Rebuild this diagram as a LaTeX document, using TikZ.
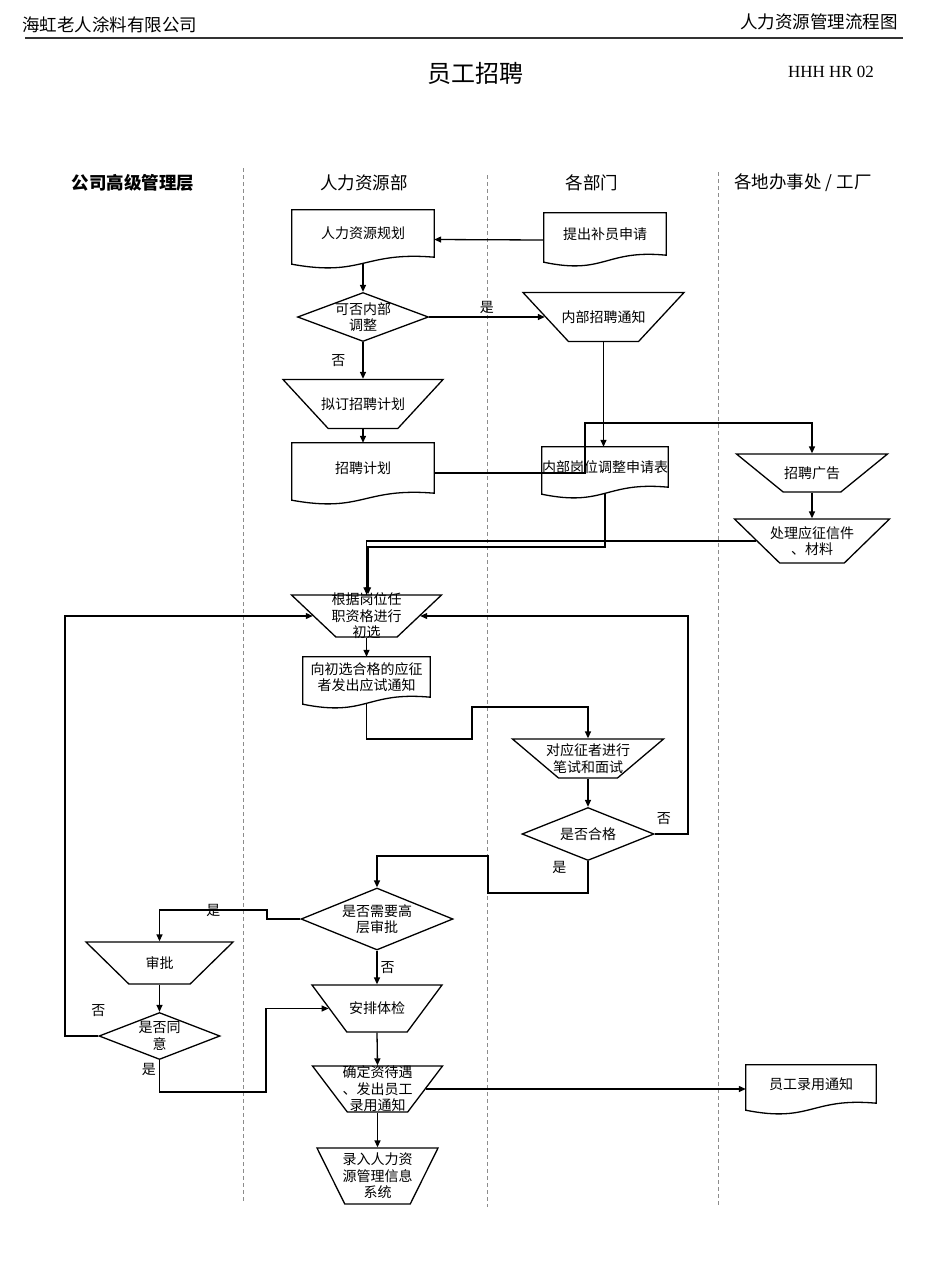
\documentclass[tikz,border=0pt]{standalone}
\usepackage{fontspec}
\setmainfont{Noto Sans CJK SC}
\newfontfamily\codefont{Liberation Serif}
\usetikzlibrary{shapes.geometric,arrows.meta}

\newcommand\boxfont{\fontsize{14}{16.5}\selectfont}
\newcommand\headfont{\fontsize{17.5}{20}\selectfont}

\tikzset{
  wire/.style={line width=1.3pt},
  arr/.style={wire, -{Triangle[length=7pt,width=6pt]}},
  doc/.style={minimum width=142, minimum height=47, inner sep=0pt, font=\boxfont, align=center},
  trap/.style={trapezium, draw, wire, shape border rotate=180, trapezium stretches=true, inner sep=1pt},
  dec/.style={diamond, draw, wire, inner sep=1pt},
  lane/.style={draw=black!45, dash pattern=on 4pt off 3pt, line width=0.8pt},
  every label/.style={font=\boxfont, align=center, inner sep=0pt},
  lbl/.style={font=\boxfont, inner sep=1pt},
}

\begin{document}
\begin{tikzpicture}[x=1pt, y=-1pt]
\useasboundingbox (0,0) rectangle (950,1267);

% page head
\node[font=\headfont] (firm) at (110,25) {海虹老人涂料有限公司};
\node[font=\headfont] (kind) at (819,22) {人力资源管理流程图};
\draw[line width=1.5pt, black!80] (25,38) -- (903,38);
\node[font=\fontsize{24}{28}\selectfont] (title) at (475,73) {员工招聘};
\node[font=\codefont\fontsize{17}{20}\selectfont] (code) at (831,72) {HHH HR 02};

% lanes
\node[font=\headfont\bfseries] (top) at (133,183) {公司高级管理层};
\node[font=\headfont] (hr) at (364,183) {人力资源部};
\node[font=\headfont] (dept) at (592,183) {各部门};
\node[font=\headfont] (site) at (803,183) {各地办事处 / 工厂};
\foreach \x/\a/\b in {243/168/1203, 487/175/1207, 718/172/1205}
  \draw[lane] (\x,\a) -- (\x,\b);

% documents
\node[doc] (plan) at (363,233.5) {人力资源规划};
\node[doc, minimum width=122, minimum height=42] (req) at (605,234) {提出补员申请};
\node[doc, minimum height=50] (hrplan) at (363,468) {招聘计划};
\node[doc, minimum width=122, minimum height=40] (form) at (605,467) {内部岗位调整申请表};
\node[doc, minimum width=127, minimum height=40] (notice) at (366.5,677) {向初选合格的应征\\者发出应试通知};
\node[doc, minimum width=130, minimum height=38] (hire) at (811,1084) {员工录用通知};
\foreach \d in {plan,req,hrplan,form,notice,hire}
  \draw[wire] (\d.north west) -- (\d.north east) -- (\d.south east)
    .. controls ([yshift=6]\d.south) and ([yshift=-20]\d.south) .. ([yshift=-7]\d.south west) -- cycle;

% processes
\node[trap, minimum width=161, minimum height=49, trapezium angle=57, label=center:内部招聘通知] (inote) at (603.5,317) {};
\node[trap, minimum width=160, minimum height=49, trapezium angle=57, label=center:拟订招聘计划] (draft) at (363,404) {};
\node[trap, minimum width=151, minimum height=38, trapezium angle=51, label=center:招聘广告] (ad) at (812,473) {};
\node[trap, minimum width=155, minimum height=44, trapezium angle=55, label={center:处理应征信件\\、材料}] (proc) at (812,541) {};
\node[trap, minimum width=150, minimum height=42, trapezium angle=54, label={center:根据岗位任\\职资格进行\\初选}] (screen) at (366.5,616) {};
\node[trap, minimum width=151, minimum height=39, trapezium angle=52, label={center:对应征者进行\\笔试和面试}] (exam) at (588,758.5) {};
\node[trap, minimum width=147, minimum height=42, trapezium angle=55, label=center:审批] (approve) at (159.5,963) {};
\node[trap, minimum width=130, minimum height=47, trapezium angle=60, label=center:安排体检] (exam2) at (377,1008.5) {};
\node[trap, minimum width=130, minimum height=46, trapezium angle=60, label={center:确定资待遇\\、发出员工\\录用通知}] (offer) at (377.5,1089) {};
\node[trap, minimum width=121, minimum height=56, trapezium angle=67, label={center:录入人力资\\源管理信息\\系统}] (record) at (377.5,1176) {};

% decisions
\node[dec, minimum width=131, minimum height=49, label={center:可否内部\\调整}] (inner) at (363,317) {};
\node[dec, minimum width=132, minimum height=53, label=center:是否合格] (pass) at (588,834) {};
\node[dec, minimum width=152, minimum height=62, label={center:是否需要高\\层审批}] (senior) at (377,919) {};
\node[dec, minimum width=121, minimum height=47, label={center:是否同\\意}] (agree) at (159.5,1036) {};

% bends
\coordinate (j1) at (585,423);
\coordinate (j2) at (368,547);
\coordinate (j3) at (472,739);
\coordinate (j4) at (472,707);
\coordinate (j5) at (688,616);
\coordinate (j6) at (488,893);
\coordinate (j7) at (488,856);
\coordinate (j8) at (267,910);
\coordinate (j9) at (65,616);
\coordinate (j10) at (266,1092);

\draw[arr] ([yshift=-6]req.west) -- ([yshift=-6]plan.east);
\draw[arr] ([yshift=-6]plan.south) -- (inner.north);
\draw[arr] (inner.east) -- node[lbl, above=2pt] (yes1) {是} (inote.west);
\draw[arr] (inner.south) -- node[lbl, left=16pt] (no1) {否} (draft.north);
\draw[arr] (draft.south) -- (hrplan.north);
\draw[arr] (inote.south) -- (inote.south |- form.north);
\draw[arr] ([yshift=-5]hrplan.east) -| (j1) -| (ad.north);
\draw[arr] (ad.south) -- (proc.north);
\draw[arr] (proc.west) -| (screen.north);
\draw[arr] ([yshift=-6]form.south) |- (j2) -- (j2 |- screen.north);
\draw[arr] (screen.south) -- (notice.north);
\draw[arr] ([yshift=-6]notice.south) |- (j3) -- (j4) -| (exam.north);
\draw[arr] (exam.south) -- (pass.north);
\draw[arr] (pass.east) -| node[lbl, pos=0.14, above=8pt] (no2) {否} (j5) -- (screen.east);
\draw[arr] (pass.south) |- node[lbl, pos=0.1, left=20pt] (yes2) {是} (j6) -- (j7) -| (senior.north);
\draw[arr] (senior.west) -| (j8) -| node[lbl, pos=0.25] (yes3) {是} (approve.north);
\draw[arr] (senior.south) -- node[lbl, right=2pt] (no3) {否} (exam2.north);
\draw[arr] (approve.south) -- (agree.north);
\draw[arr] (agree.west) -| node[lbl, pos=0, above=18pt] (no4) {否} (j9) -- (screen.west);
\draw[arr] (agree.south) |- node[lbl, pos=0.15, left=2pt] (yes4) {是} (j10) |- (exam2.west);
\draw[arr] (exam2.south) -- (offer.north);
\draw[arr] (offer.east) -- (offer.east -| hire.west);
\draw[arr] (offer.south) -- (record.north);
\end{tikzpicture}
\end{document}
